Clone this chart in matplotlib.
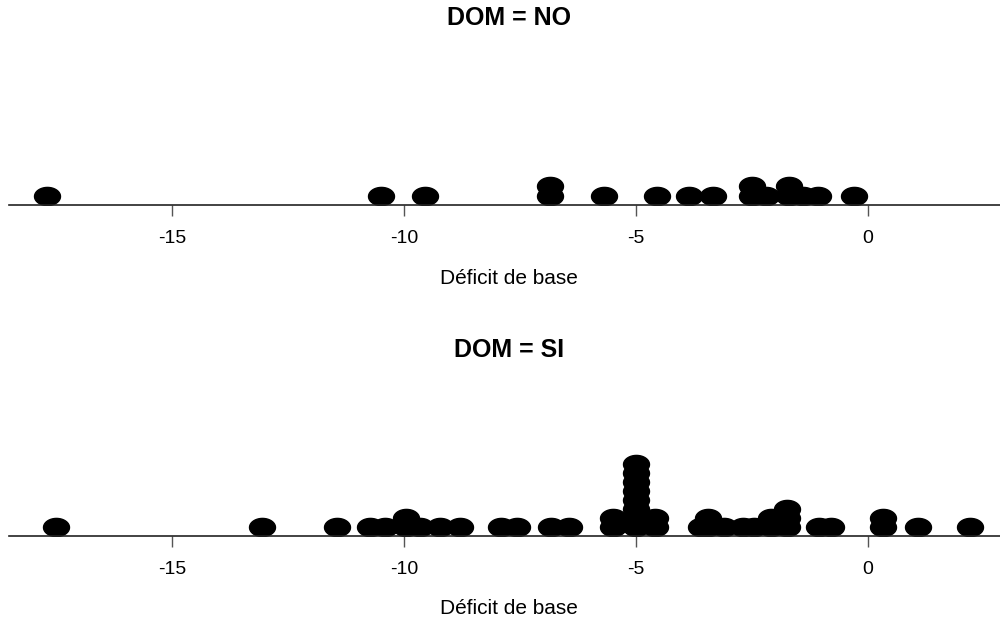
import numpy as np
import matplotlib.pyplot as plt
from matplotlib.path import Path

# base deficit values
dom_no = [-17.7, -10.5, -9.55, -6.85, -6.85, -5.7, -4.55, -3.85, -3.35,
          -2.5, -2.5, -2.2, -1.7, -1.7, -1.4, -1.08, -0.3]
dom_si = [-17.5, -13.06, -11.45, -10.73, -10.4, -9.95, -9.95, -9.65, -9.22, -8.8,
          -7.9, -7.56, -6.83, -6.44,
          -5.5, -5.5, -5.0, -5.0, -5.0, -5.0, -5.0, -5.0, -5.0, -5.0, -4.6, -4.6,
          -3.6, -3.45, -3.45, -3.1, -2.7, -2.45, -2.1, -2.1, -1.75, -1.75, -1.75,
          -1.05, -0.8, 0.32, 0.32, 1.08, 2.2]
panels = ["DOM = NO", "DOM = SI"]
xticks = [-15, -10, -5, 0]
xlabel = "Déficit de base"

plt.rcParams['font.family'] = ['Liberation Sans', 'DejaVu Sans']

# flattened dot, like R's stretched pch 19
t = np.linspace(0, 2 * np.pi, 60)
ellipse = Path(np.column_stack([np.cos(t), 0.7 * np.sin(t)]), closed=True)


def stack_levels(vals):
    seen = {}
    lev = []
    for v in vals:
        k = round(v, 3)
        lev.append(seen.get(k, 0))
        seen[k] = seen.get(k, 0) + 1
    return lev


fig = plt.figure(figsize=(10, 6.24), dpi=100)
H = 624.0
# axis line position (px from top) for each panel
axis_y = [205, 536]
title_y = [18, 350]
label_y = [278, 608]
step = [1.0, 0.9]

for i, (vals, name) in enumerate(zip([dom_no, dom_si], panels)):
    bottom = 1 - axis_y[i] / H
    ax = fig.add_axes([0.009, bottom, 0.991, 175 / H])
    lev = np.array(stack_levels(vals)) * step[i]
    ax.plot(vals, lev, linestyle='none', marker=ellipse, markersize=18.7,
            color='black')
    ax.set_xlim(-18.51, 2.84)
    ax.set_ylim(-0.9, 16.6)
    for s in ['top', 'right', 'left']:
        ax.spines[s].set_visible(False)
    ax.spines['bottom'].set_color('#222222')
    ax.spines['bottom'].set_linewidth(1.2)
    ax.set_yticks([])
    ax.set_xticks(xticks)
    ax.set_xticklabels([str(x) for x in xticks])
    ax.tick_params(axis='x', length=8, width=1, color='#555555',
                   labelsize=14, pad=10)
    fig.text(0.509, 1 - title_y[i] / H, name, ha='center', va='center',
             fontsize=18, fontweight='bold')
    fig.text(0.509, 1 - label_y[i] / H, xlabel, ha='center', va='center',
             fontsize=15)

fig.savefig('out.png', dpi=100)
